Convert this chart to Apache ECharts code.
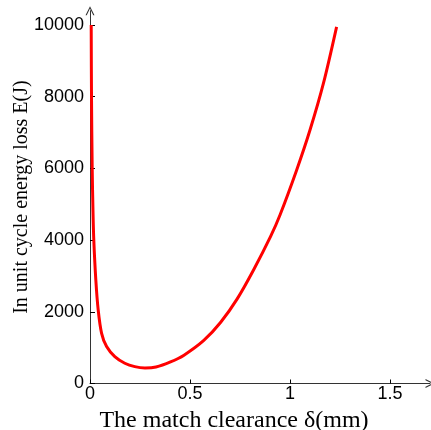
<!DOCTYPE html>
<html><head><meta charset="utf-8">
<script src="https://cdn.jsdelivr.net/npm/echarts@6/dist/echarts.min.js"></script>
<style>html,body{margin:0;padding:0;background:#fff}#c{width:431px;height:430px}</style>
</head><body><div id="c"></div>
<script>
// clearance δ (mm)
const clearance = [0.006, 0.0075, 0.011, 0.015, 0.019, 0.029, 0.041, 0.058, 0.083, 0.124, 0.174, 0.224, 0.275, 0.330, 0.4025, 0.470, 0.569, 0.6525, 0.736, 0.819, 0.9025, 0.950, 1.033, 1.100, 1.167, 1.233];
// energy loss E (J)
const energy = [10000, 8000, 6000, 4800, 4000, 2900, 2050, 1400, 1030, 750, 565, 470, 435, 460, 600, 790, 1200, 1700, 2360, 3180, 4095, 4700, 5950, 7070, 8370, 9950];
const xTicks = [0, 0.5, 1, 1.5];
const yTicks = [0, 2000, 4000, 6000, 8000, 10000];

const chevron = 'path://M0,10 L5,0 L10,10 L8.6,10 L5,2.6 L1.4,10 Z';
const chart = echarts.init(document.getElementById('c'));
chart.setOption({
  animation: false,
  grid: {left: 90, right: 1, top: 10.7, bottom: 46.5, containLabel: false, outerBoundsMode: 'none'},
  xAxis: {
    type: 'value', min: 0, max: 1.7,
    name: 'The match clearance δ(mm)', nameLocation: 'middle', nameGap: 25, nameMoveOverlap: false,
    nameTextStyle: {fontFamily: 'Liberation Serif', fontSize: 24, color: '#000', padding: [0, 52, 0, 0]},
    axisLine: {show: true, lineStyle: {color: '#333', width: 1}, symbol: ['none', chevron], symbolSize: [9, 12]},
    axisTick: {show: true, inside: true, length: 4, lineStyle: {color: '#000'}, customValues: xTicks},
    axisLabel: {customValues: xTicks, fontFamily: 'Liberation Sans', fontSize: 18, color: '#000', margin: 2,
      formatter: v => String(v)},
    splitLine: {show: false}
  },
  yAxis: {
    type: 'value', min: 0, max: 10400,
    name: 'In unit cycle energy loss E(J)', nameLocation: 'middle', nameGap: 58, nameMoveOverlap: false,
    nameTextStyle: {fontFamily: 'Liberation Serif', fontSize: 20, color: '#000'},
    axisLine: {show: true, lineStyle: {color: '#333', width: 1}, symbol: ['none', chevron], symbolSize: [9, 12]},
    axisTick: {show: true, inside: true, length: 5, lineStyle: {color: '#000'}, customValues: yTicks},
    axisLabel: {customValues: yTicks, fontFamily: 'Liberation Sans', fontSize: 18, color: '#000', margin: 6,
      formatter: v => String(v)},
    splitLine: {show: false}
  },
  series: [{
    type: 'line',
    data: clearance.map((x, i) => [x, energy[i]]),
    smooth: 0.3,
    showSymbol: false,
    lineStyle: {color: '#ff0000', width: 3}
  }]
});
</script></body></html>
